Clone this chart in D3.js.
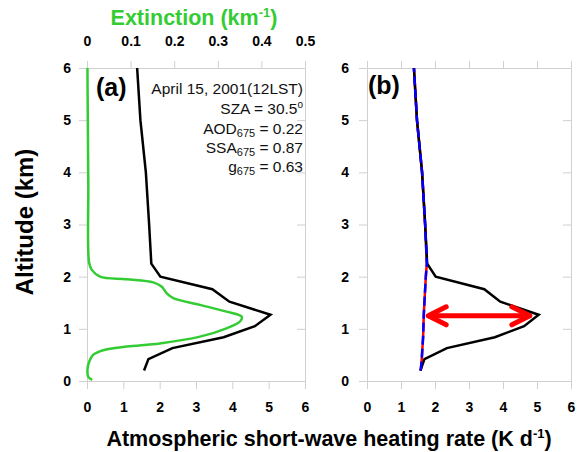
<!DOCTYPE html>
<html>
<head>
<meta charset="utf-8">
<script src="https://cdn.jsdelivr.net/npm/d3@7"></script>
<style>
  body { margin: 0; background: #fff; }
  svg { display: block; font-family: "Liberation Sans", Arial, sans-serif; }
  .axis path, .axis line { stroke: #d0d0d0; }
  .axis text { font-weight: bold; font-size: 14px; fill: #000; }
</style>
</head>
<body>
<svg id="chart" width="588" height="452"></svg>
<script>
// altitude levels (km) of the heating-rate profiles
var altitudes = [0.2, 0.42, 0.63, 0.84, 1.05, 1.27, 1.52, 1.76, 2.0, 2.25, 3, 4, 5, 6];
// total short-wave heating rate (K/day)
var heatingTotal = [1.57, 1.69, 2.35, 3.76, 4.62, 5.05, 3.92, 3.45, 2.02, 1.77, 1.71, 1.62, 1.47, 1.38];
// heating rate without the aerosol layer (K/day)
var heatingClear = [1.58, 1.61, 1.63, 1.65, 1.66, 1.67, 1.69, 1.71, 1.73, 1.76, 1.71, 1.62, 1.47, 1.38];
// extinction profile
var extAltitudes = [0.02, 0.08, 0.21, 0.37, 0.5, 0.59, 0.66, 0.72, 0.85, 1.01, 1.14, 1.23, 1.33, 1.46, 1.59, 1.68, 1.81, 1.89, 1.95, 2.0, 2.13, 2.26, 3.8, 6];
var extinction = [0.012, 0.003, 0.001, 0.005, 0.014, 0.037, 0.091, 0.167, 0.259, 0.32, 0.351, 0.355, 0.32, 0.259, 0.198, 0.183, 0.171, 0.152, 0.091, 0.03, 0.011, 0.005, 0.003, 0.001];
var heatTicks = [0, 1, 2, 3, 4, 5, 6];
var extTicks = [0, 0.1, 0.2, 0.3, 0.4, 0.5];
var altTicks = [0, 1, 2, 3, 4, 5, 6];
// red double arrow: from, to (K/day) at altitude
var arrowSpan = [1.8, 4.79];
var arrowAlt = 1.25;

var svg = d3.select("#chart");
var green = "#33cc33";
var noLabel = function() { return ""; };

var y = d3.scaleLinear().domain([0, 6]).range([381, 68]);
var xA = d3.scaleLinear().domain([0, 6]).range([87, 305]);
var xExt = d3.scaleLinear().domain([0, 0.5]).range([87, 305]);
var xB = d3.scaleLinear().domain([0, 6]).range([367, 571]);

var drawFrame = function drawFrame(x, topScale, topTicks, topFormat, labelOffset) {
  var x0 = x.range()[0], x1 = x.range()[1];
  svg.append("g").attr("class", "axis")
    .attr("transform", "translate(0," + y(0) + ")")
    .call(d3.axisBottom(x).tickValues(heatTicks).tickSize(8).tickSizeOuter(0).tickPadding(13)
      .tickFormat(d3.format("d")));
  svg.append("g").attr("class", "axis")
    .attr("transform", "translate(0," + y(6) + ")")
    .call(d3.axisTop(topScale).tickValues(topTicks).tickSize(7).tickSizeOuter(0).tickPadding(15)
      .tickFormat(topFormat));
  svg.append("g").attr("class", "axis")
    .attr("transform", "translate(" + x0 + ",0)")
    .call(d3.axisLeft(y).tickValues(altTicks).tickSize(8).tickSizeOuter(0).tickPadding(labelOffset)
      .tickFormat(d3.format("d")));
  svg.append("g").attr("class", "axis")
    .attr("transform", "translate(" + x1 + ",0)")
    .call(d3.axisLeft(y).tickValues(altTicks).tickSize(8).tickSizeOuter(0).tickFormat(noLabel));
};

drawFrame(xA, xExt, extTicks, d3.format(""), 8);
drawFrame(xB, xB, heatTicks, noLabel, 10);

var line = function line(x, xs, ys, curve) {
  return d3.line()
    .x(function(d, i) { return x(xs[i]); })
    .y(function(d, i) { return y(ys[i]); })
    .curve(curve || d3.curveLinear)(xs);
};

// panel (a)
svg.append("path")
  .attr("d", line(xExt, extinction, extAltitudes, d3.curveCatmullRom.alpha(0.5)))
  .attr("fill", "none").attr("stroke", green).attr("stroke-width", 2.5);
svg.append("path")
  .attr("d", line(xA, heatingTotal, altitudes))
  .attr("fill", "none").attr("stroke", "#000").attr("stroke-width", 2.5);

// panel (b)
svg.append("path")
  .attr("d", line(xB, heatingClear, altitudes))
  .attr("fill", "none").attr("stroke", "#ff0000").attr("stroke-width", 2.5);
svg.append("path")
  .attr("d", line(xB, heatingTotal, altitudes))
  .attr("fill", "none").attr("stroke", "#000").attr("stroke-width", 2.5);
svg.append("path")
  .attr("d", line(xB, heatingClear, altitudes))
  .attr("fill", "none").attr("stroke", "#0000ff").attr("stroke-width", 2.5)
  .attr("stroke-dasharray", "9,4");

// red double arrow
var ax0 = xB(arrowSpan[0]), ax1 = xB(arrowSpan[1]), ay = y(arrowAlt);
var arrow = svg.append("g")
  .attr("fill", "none").attr("stroke", "#ff0000").attr("stroke-width", 5)
  .attr("stroke-linecap", "round").attr("stroke-linejoin", "round");
arrow.append("line").attr("x1", ax0 + 2).attr("y1", ay).attr("x2", ax1 - 2).attr("y2", ay);
arrow.append("path").attr("d", "M" + (ax0 + 18) + "," + (ay - 9) + "L" + ax0 + "," + ay + "L" + (ax0 + 18) + "," + (ay + 9));
arrow.append("path").attr("d", "M" + (ax1 - 18) + "," + (ay - 9) + "L" + ax1 + "," + ay + "L" + (ax1 - 18) + "," + (ay + 9));

// panel labels
svg.append("text").attr("x", 96).attr("y", 96)
  .attr("font-size", 25).attr("font-weight", "bold").text("(a)");
svg.append("text").attr("x", 368).attr("y", 94)
  .attr("font-size", 25).attr("font-weight", "bold").text("(b)");

// annotation
var note = svg.append("g").attr("font-size", 15.5).attr("text-anchor", "end").attr("fill", "#111");
note.append("text").attr("x", 303).attr("y", 94).text("April 15, 2001(12LST)");
var sza = note.append("text").attr("x", 303).attr("y", 114);
sza.append("tspan").text("SZA = 30.5");
sza.append("tspan").attr("font-size", 10).attr("dy", -6).text("o");
var subLine = function subLine(yPos, name, value) {
  var t = note.append("text").attr("x", 303).attr("y", yPos);
  t.append("tspan").text(name);
  t.append("tspan").attr("font-size", 11).attr("dy", 3).text("675");
  t.append("tspan").attr("dy", -3).text(" = " + value);
};
subLine(134, "AOD", "0.22");
subLine(153, "SSA", "0.87");
subLine(172, "g", "0.63");

// axis titles
var ext = svg.append("text").attr("x", 194).attr("y", 25).attr("text-anchor", "middle")
  .attr("font-size", 21.5).attr("font-weight", "bold").attr("fill", green);
ext.append("tspan").text("Extinction (km");
ext.append("tspan").attr("font-size", 13).attr("dy", -8).text("-1");
ext.append("tspan").attr("dy", 8).text(")");

svg.append("text")
  .attr("transform", "translate(33,222) rotate(-90)")
  .attr("text-anchor", "middle").attr("font-size", 24).attr("font-weight", "bold")
  .text("Altitude (km)");

var hr = svg.append("text").attr("x", 329).attr("y", 446).attr("text-anchor", "middle")
  .attr("font-size", 21.5).attr("font-weight", "bold");
hr.append("tspan").text("Atmospheric short-wave heating rate (K d");
hr.append("tspan").attr("font-size", 13).attr("dy", -8).text("-1");
hr.append("tspan").attr("dy", 8).text(")");
</script>
</body>
</html>
